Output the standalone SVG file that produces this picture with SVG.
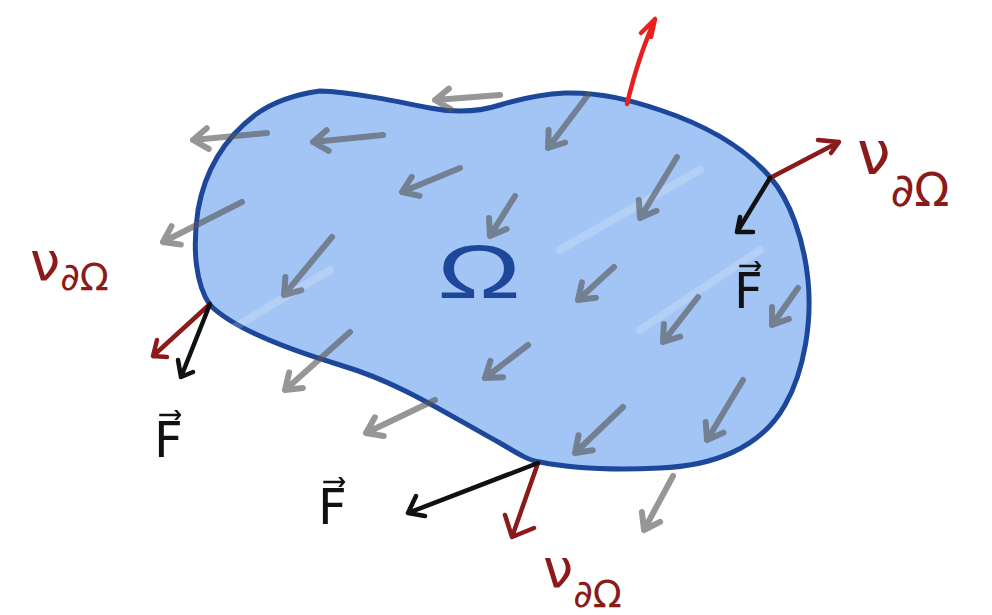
<svg xmlns="http://www.w3.org/2000/svg" width="992" height="615" viewBox="0 0 992 615">
<style>
.g{fill:none;stroke:#555;stroke-opacity:0.62;stroke-width:6;stroke-linecap:round;stroke-linejoin:round}
.r{fill:none;stroke:#8b1a1a;stroke-width:4.5;stroke-linecap:round;stroke-linejoin:round}
.k{fill:none;stroke:#111;stroke-width:4.5;stroke-linecap:round;stroke-linejoin:round}
.br{fill:none;stroke:#e8201e;stroke-width:4.5;stroke-linecap:round;stroke-linejoin:round}
.nu{font-family:"DejaVu Sans",sans-serif;fill:#8b1a1a}
.f{font-family:"DejaVu Sans",sans-serif;fill:#111}
</style>
<rect width="992" height="615" fill="#fff"/>
<g id="region">
<path d="M320,91 C298,94 274,101 255,115 C225,138 205,170 198,210 C192,250 196,285 210,305 C235,330 290,350 340,365 C400,383 440,410 500,443 C520,455 530,461 540,462 C580,470 620,470 660,468 C710,466 760,450 785,405 C805,370 812,320 808,280 C804,240 790,200 770,177 C745,148 705,125 660,110 C630,100 600,92 565,93 C540,94 520,99 500,105 C478,112 455,113 430,108 C390,100 350,92 320,91 Z" fill="#a3c5f5" stroke="#1d479a" stroke-width="5" stroke-linejoin="round"/>
<path d="M230,330 L330,270 M560,250 L700,170 M640,330 L760,250" stroke="#fff" stroke-opacity="0.18" stroke-width="8" stroke-linecap="round" fill="none"/>
<text x="437" y="298" font-family="Liberation Sans,sans-serif" font-size="76" fill="#1d479a" textLength="84" lengthAdjust="spacingAndGlyphs">Ω</text>
</g>
<g id="connectors">
<path class="g" d="M500,95 L435,100 M450.5,109.2 L435,100 L448.9,88.6"/>
<path class="g" d="M267,133 L193,140 M208.7,148.9 L193,140 L206.7,128.3"/>
<path class="g" d="M383,135 L313,142 M328.7,150.8 L313,142 L326.6,130.3"/>
<path class="g" d="M460,168 L402,192 M419.6,195.9 L402,192 L411.7,176.8"/>
<path class="g" d="M242,202 L163,242 M180.8,244.6 L163,242 L171.5,226.1"/>
<path class="g" d="M332,237 L284,295 M301.4,290.2 L284,295 L285.4,277.1"/>
<path class="g" d="M515,196 L490,236 M506.6,229 L490,236 L489,218"/>
<path class="g" d="M588,95 L548,148 M565.1,142.5 L548,148 L548.6,130"/>
<path class="g" d="M677,157 L640,218 M656.5,210.8 L640,218 L638.8,200"/>
<path class="g" d="M614,267 L578,300 M595.9,297.7 L578,300 L581.9,282.4"/>
<path class="g" d="M798,288 L772,325 M788.9,318.9 L772,325 L772,307"/>
<path class="g" d="M698,297 L663,342 M680.2,336.7 L663,342 L663.9,324"/>
<path class="g" d="M528,345 L485,378 M503,377.2 L485,378 L490.4,360.8"/>
<path class="g" d="M743,380 L707,440 M723.4,432.7 L707,440 L705.7,422.1"/>
<path class="g" d="M623,407 L575,453 M592.8,450.2 L575,453 L578.5,435.3"/>
<path class="g" d="M673,476 L644,530 M660.1,521.9 L644,530 L641.9,512.1"/>
<path class="g" d="M350,332 L285,390 M302.9,387.9 L285,390 L289.1,372.5"/>
<path class="g" d="M435,400 L366,433 M383.7,436 L366,433 L374.9,417.3"/>
<path class="br" d="M627,104 C634,75 642,48 655,20 M641,33 L655,19 L651,37"/>
<path class="r" d="M770,178 L839,142 M818,140 L839,142 L831,153"/>
<path class="r" d="M210,304 L153,356 M157,340 L153,356 L167,357"/>
<path class="r" d="M538,463 L512,537 M505,515 L512,537 L534,528"/>
<path class="k" d="M770,178 L737,232 M740,217 L737,232 L753,232"/>
<path class="k" d="M210,304 L181,377 M178,360 L181,377 L193,372"/>
<path class="k" d="M538,463 L408,513 M416,496 L408,513 L425,516"/>
</g>
<g id="labels">
<text class="nu" x="857" y="174" font-size="60">ν<tspan font-size="46" dy="32">∂Ω</tspan></text>
<text class="nu" x="30" y="280" font-size="54">ν<tspan font-size="38" dy="10">∂Ω</tspan></text>
<text class="nu" x="543" y="587" font-size="54">ν<tspan font-size="38" dy="20">∂Ω</tspan></text>
<text class="f" x="734" y="308" font-size="50">F⃗</text>
<text class="f" x="154" y="457" font-size="50">F⃗</text>
<text class="f" x="318" y="524" font-size="50">F⃗</text>
</g>
</svg>
